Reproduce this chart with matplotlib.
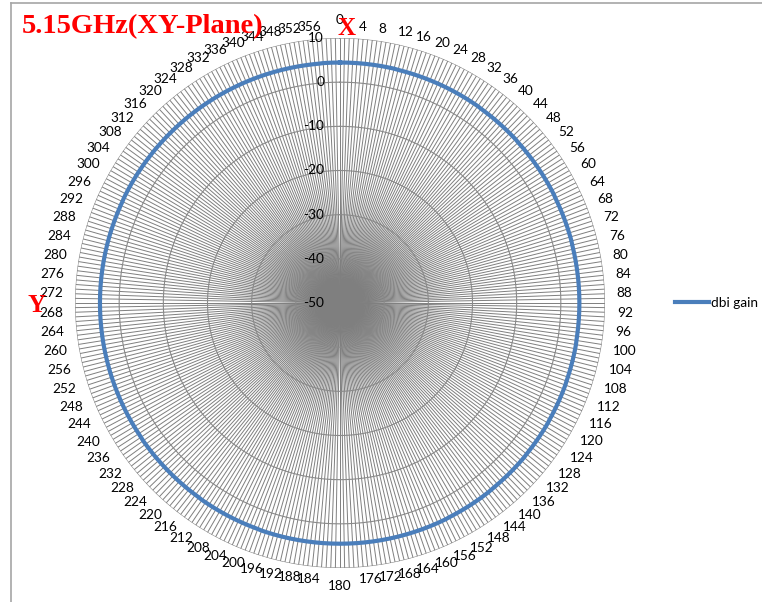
import numpy as np
import matplotlib
matplotlib.use("Agg")
import matplotlib.pyplot as plt
from matplotlib.lines import Line2D

# ---- data ----
angles_deg = list(range(360))
dbi_gain = [
    4.45, 4.45, 4.45, 4.45, 4.45, 4.45, 4.45, 4.45, 4.45, 4.45, 4.45, 4.45,
    4.45, 4.45, 4.4, 4.4, 4.4, 4.4, 4.4, 4.4, 4.4, 4.4, 4.4, 4.4,
    4.4, 4.4, 4.4, 4.4, 4.4, 4.4, 4.4, 4.4, 4.4, 4.4, 4.4, 4.4,
    4.35, 4.35, 4.35, 4.35, 4.35, 4.35, 4.35, 4.35, 4.35, 4.35, 4.35, 4.35,
    4.3, 4.3, 4.3, 4.3, 4.3, 4.3, 4.3, 4.3, 4.3, 4.3, 4.3, 4.3,
    4.3, 4.3, 4.3, 4.3, 4.25, 4.25, 4.25, 4.25, 4.25, 4.25, 4.25, 4.25,
    4.25, 4.25, 4.25, 4.25, 4.2, 4.2, 4.2, 4.2, 4.2, 4.2, 4.2, 4.2,
    4.2, 4.2, 4.2, 4.2, 4.2, 4.2, 4.2, 4.2, 4.2, 4.2, 4.2, 4.2,
    4.2, 4.2, 4.2, 4.2, 4.25, 4.25, 4.25, 4.25, 4.25, 4.25, 4.25, 4.25,
    4.25, 4.25, 4.3, 4.3, 4.3, 4.3, 4.3, 4.3, 4.3, 4.3, 4.3, 4.3,
    4.35, 4.35, 4.35, 4.35, 4.35, 4.35, 4.35, 4.35, 4.35, 4.35, 4.4, 4.4,
    4.4, 4.4, 4.4, 4.4, 4.4, 4.4, 4.4, 4.4, 4.4, 4.4, 4.45, 4.45,
    4.45, 4.45, 4.45, 4.45, 4.45, 4.45, 4.45, 4.45, 4.45, 4.45, 4.5, 4.5,
    4.5, 4.5, 4.5, 4.5, 4.5, 4.5, 4.5, 4.5, 4.5, 4.5, 4.5, 4.5,
    4.5, 4.5, 4.5, 4.5, 4.5, 4.5, 4.5, 4.5, 4.5, 4.5, 4.5, 4.5,
    4.5, 4.5, 4.5, 4.5, 4.5, 4.5, 4.5, 4.5, 4.5, 4.5, 4.5, 4.5,
    4.5, 4.5, 4.5, 4.5, 4.5, 4.5, 4.5, 4.5, 4.45, 4.45, 4.45, 4.45,
    4.45, 4.45, 4.45, 4.45, 4.45, 4.45, 4.45, 4.45, 4.45, 4.45, 4.45, 4.45,
    4.4, 4.4, 4.4, 4.4, 4.4, 4.4, 4.4, 4.4, 4.4, 4.4, 4.4, 4.4,
    4.4, 4.4, 4.4, 4.4, 4.4, 4.4, 4.4, 4.4, 4.35, 4.35, 4.35, 4.35,
    4.35, 4.35, 4.35, 4.35, 4.35, 4.35, 4.35, 4.35, 4.35, 4.35, 4.35, 4.35,
    4.35, 4.35, 4.35, 4.35, 4.35, 4.35, 4.35, 4.35, 4.35, 4.35, 4.35, 4.35,
    4.35, 4.35, 4.35, 4.35, 4.35, 4.35, 4.35, 4.35, 4.35, 4.35, 4.35, 4.35,
    4.35, 4.35, 4.35, 4.35, 4.35, 4.35, 4.35, 4.35, 4.35, 4.35, 4.35, 4.35,
    4.35, 4.35, 4.35, 4.35, 4.35, 4.35, 4.35, 4.35, 4.4, 4.4, 4.4, 4.4,
    4.4, 4.4, 4.4, 4.4, 4.4, 4.4, 4.4, 4.4, 4.4, 4.4, 4.4, 4.4,
    4.4, 4.4, 4.4, 4.4, 4.4, 4.4, 4.4, 4.4, 4.4, 4.4, 4.4, 4.4,
    4.4, 4.4, 4.4, 4.4, 4.4, 4.4, 4.4, 4.4, 4.4, 4.4, 4.4, 4.4,
    4.4, 4.4, 4.4, 4.4, 4.4, 4.4, 4.4, 4.4, 4.4, 4.4, 4.4, 4.4,
    4.4, 4.4, 4.4, 4.4, 4.4, 4.4, 4.4, 4.4, 4.45, 4.45, 4.45, 4.45,
]
radial_ticks = [10, 0, -10, -20, -30, -40, -50]
r_min, r_max = -50, 10
label_step = 4
series_name = "dbi gain"
title_text = "5.15GHz(XY-Plane)"

# ---- figure ----
W, H = 762, 602
fig = plt.figure(figsize=(W / 100, H / 100), dpi=100)
fig.patch.set_facecolor("white")

cx, cy, R = 340, 303, 265  # pixels from top-left
ax = fig.add_axes([(cx - R) / W, (H - cy - R) / H, 2 * R / W, 2 * R / H],
                  projection="polar")
ax.set_theta_zero_location("N")
ax.set_theta_direction(-1)
ax.set_ylim(r_min, r_max)
ax.grid(False)
ax.set_xticks([])
ax.set_yticks([])
for s in ax.spines.values():
    s.set_visible(False)
ax.patch.set_alpha(0)

grid_col = "#7f7f7f"
theta = np.deg2rad(angles_deg)
# spokes
ax.vlines(theta, r_min, r_max, colors=grid_col, linewidth=0.7, zorder=1)
# rings
ring_t = np.append(theta, theta[0])
for v in radial_ticks:
    if v == r_min:
        continue
    ax.plot(ring_t, [v] * len(ring_t), color="#8a8a8a", linewidth=0.8, zorder=1)

# data
vals = np.append(np.array(dbi_gain), dbi_gain[0])
line, = ax.plot(ring_t, vals, color="#4A7EBB", linewidth=3.0, zorder=3,
                label=series_name)

lab_font = dict(family=["Lato", "DejaVu Sans"], fontsize=9.8, color="#000000")

# radial labels
for v in radial_ticks:
    ax.annotate(str(v), xy=(0, v), xytext=(-11.5, 0), textcoords="offset points",
                ha="right", va="center", zorder=5, **lab_font)

# angle labels
r_lab = r_min + (r_max - r_min) * 277.0 / R
for a in range(0, 360, label_step):
    t = np.deg2rad(a)
    ux, uy = np.sin(t), np.cos(t)
    if abs(ux) < 1e-9:
        ha = "center"
        va = "bottom" if uy > 0 else "top"
    else:
        ha = "left" if ux > 0 else "right"
        va = "center"
    ax.text(t, r_lab, str(a), ha=ha, va=va, zorder=5, clip_on=False, **lab_font)

# title & axis markers
ser = dict(family=["Liberation Serif", "DejaVu Serif"], fontweight="bold", color="#FF0000")
fig.text(22 / W, 1 - 33 / H, title_text, ha="left", va="baseline", fontsize=20.5, **ser)
fig.text(337 / W, 1 - 35 / H, "X", ha="left", va="baseline", fontsize=18, **ser)
fig.text(27 / W, 1 - 312 / H, "Y", ha="left", va="baseline", fontsize=18, **ser)

# legend
leg = fig.legend(handles=[line], loc="center left",
                 bbox_to_anchor=(675 / W, 1 - 303 / H), frameon=False,
                 borderpad=0, borderaxespad=0, handlelength=2.5, handletextpad=0.15,
                 prop=dict(family=["Lato", "DejaVu Sans"], size=9.8))

# chart border (left and top)
bcol = "#A6A6A6"
fig.add_artist(Line2D([11 / W, 11 / W], [0, 1 - 3 / H], color=bcol, linewidth=1.2))
fig.add_artist(Line2D([11 / W, 1], [1 - 3 / H, 1 - 3 / H], color=bcol, linewidth=1.2))

fig.savefig("out.png", dpi=100)
